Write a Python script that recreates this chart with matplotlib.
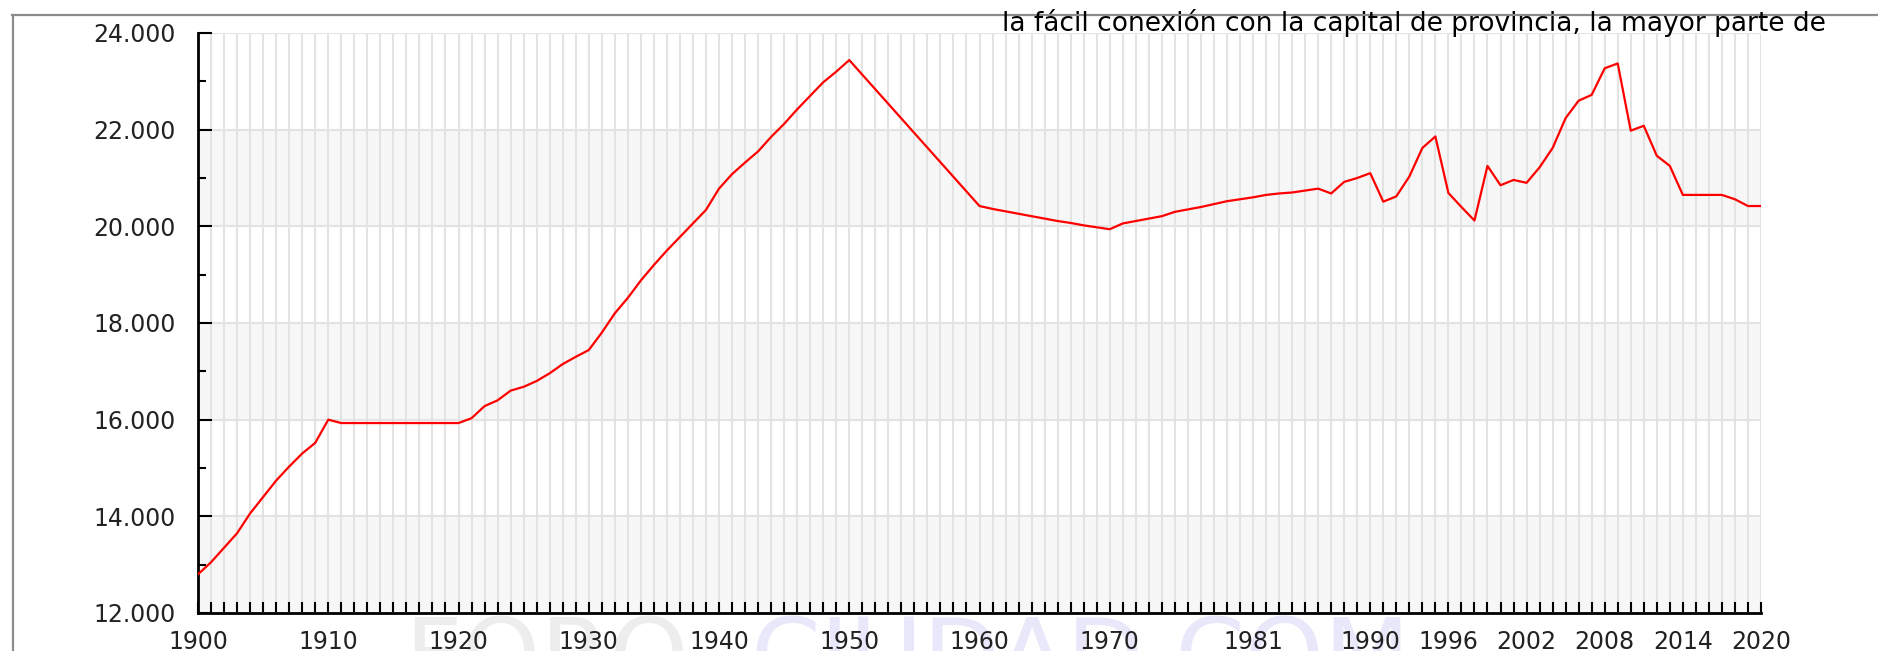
import matplotlib.pyplot as plt
from matplotlib.lines import Line2D

# datos (habitantes por año)
anios = [1900, 1901, 1902, 1903, 1904, 1905, 1906, 1907, 1908, 1909, 1910,
         1911, 1920, 1921, 1922, 1923, 1924, 1925, 1926, 1927, 1928, 1929,
         1930, 1931, 1932, 1933, 1934, 1935, 1936, 1937, 1938, 1939, 1940,
         1941, 1942, 1943, 1944, 1945, 1946, 1947, 1948, 1949, 1950,
         1960, 1961, 1962, 1963, 1964, 1965, 1966, 1967, 1968, 1969, 1970,
         1971, 1972, 1973, 1974, 1975, 1976, 1977, 1978, 1979, 1980, 1981,
         1982, 1983, 1984, 1985, 1986, 1987, 1988, 1989, 1990, 1991, 1992,
         1993, 1994, 1995, 1996, 1997, 1998, 1999, 2000, 2001, 2002, 2003,
         2004, 2005, 2006, 2007, 2008, 2009, 2010, 2011, 2012, 2013, 2014,
         2015, 2016, 2017, 2018, 2019, 2020]
poblacion = [12800, 13050, 13350, 13650, 14060, 14400, 14740, 15030, 15300, 15520, 16000,
             15930, 15930, 16030, 16280, 16400, 16600, 16680, 16800, 16960, 17150, 17300,
             17440, 17800, 18200, 18520, 18880, 19200, 19500, 19780, 20060, 20340, 20780,
             21080, 21320, 21550, 21850, 22120, 22420, 22700, 22980, 23200, 23440,
             20420, 20360, 20310, 20260, 20210, 20160, 20110, 20070, 20020, 19980, 19940,
             20060, 20110, 20160, 20210, 20300, 20350, 20400, 20460, 20520, 20560, 20600,
             20650, 20680, 20700, 20740, 20780, 20680, 20920, 21000, 21100, 20510, 20620,
             21030, 21620, 21860, 20690, 20400, 20120, 21250, 20850, 20960, 20900, 21220,
             21620, 22240, 22600, 22720, 23270, 23370, 21980, 22080, 21460, 21250, 20650,
             20650, 20650, 20650, 20560, 20420, 20420]

etiquetas_x = [1900, 1910, 1920, 1930, 1940, 1950, 1960, 1970, 1981,
               1990, 1996, 2002, 2008, 2014, 2020]
etiquetas_y = [12000, 14000, 16000, 18000, 20000, 22000, 24000]
texto_pagina = 'la fácil conexión con la capital de provincia, la mayor parte de'

W, H = 1878, 651
fig = plt.figure(figsize=(W / 100, H / 100), dpi=100)
ax = fig.add_axes([198 / W, 1 - 613 / H, (1761 - 198) / W, (613 - 33) / H])

# bandas grises alternas
for lo in etiquetas_y[:-1:2]:
    ax.axhspan(lo, lo + 2000, color='#f7f7f7', zorder=0, lw=0)

ax.plot(anios, poblacion, color='#ff0000', lw=1.6, zorder=3)

ax.set_xlim(1900, 2020)
ax.set_ylim(12000, 24000)
ax.set_xticks(etiquetas_x)
ax.set_xticklabels([str(a) for a in etiquetas_x])
ax.set_xticks(range(1900, 2021), minor=True)
ax.set_yticks(etiquetas_y)
ax.set_yticklabels(['{:,}'.format(v).replace(',', '.') for v in etiquetas_y])
ax.set_yticks(range(12000, 24001, 1000), minor=True)

ax.grid(which='both', axis='x', color='#e3e3e3', lw=1.5, zorder=1)
ax.grid(which='major', axis='y', color='#e3e3e3', lw=1.5, zorder=1)
ax.set_axisbelow(True)

ax.tick_params(axis='x', which='both', direction='in', length=8, width=1.5,
               color='black', pad=12, labelsize=17, labelcolor='#222222')
ax.tick_params(axis='y', which='major', direction='in', length=10, width=1.5,
               pad=16, labelsize=17, labelcolor='#222222')
ax.tick_params(axis='y', which='minor', direction='in', length=6, width=1.5)

for s in ['top', 'right']:
    ax.spines[s].set_visible(False)
for s in ['left', 'bottom']:
    ax.spines[s].set_linewidth(2)
    ax.spines[s].set_color('black')

# marco gris de la pagina
fig.add_artist(Line2D([12 / W, 1], [1 - 15 / H, 1 - 15 / H], color='#8c8c8c', lw=1.6))
fig.add_artist(Line2D([13 / W, 13 / W], [0, 1 - 15 / H], color='#8c8c8c', lw=1.6))

# marca de agua
fig.text(404 / W, 1 - 614 / H, 'FORO', fontsize=72, color='#ededed',
         va='top', ha='left', zorder=-1)
fig.text(1410 / W, 1 - 614 / H, 'CIUDAD.COM', fontsize=72, color='#e8e8fa',
         va='top', ha='right', zorder=-1)

fig.text(1826 / W, 1 - 31 / H, texto_pagina, fontsize=19, family='DejaVu Sans',
         color='black', ha='right', va='baseline')

fig.savefig('out.png', dpi=100)
